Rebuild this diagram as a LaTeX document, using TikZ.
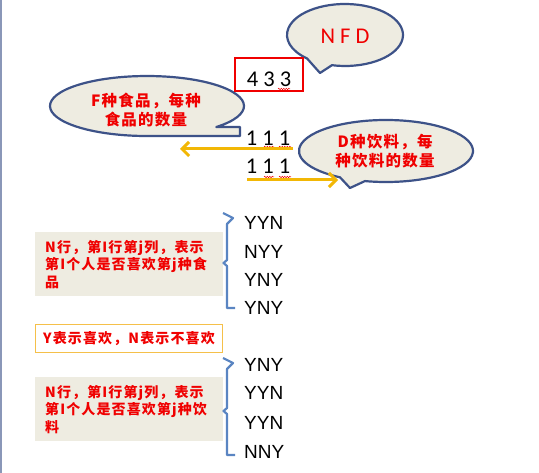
\documentclass[tikz,border=0pt]{standalone}
\usepackage{fontspec}
\setmainfont{Liberation Sans}
\newfontfamily\cjk{Noto Sans CJK SC}[LetterSpace=8]
\newfontfamily\calib{Carlito}
\usetikzlibrary{arrows.meta,decorations.pathmorphing}
\definecolor{bubble fill}{HTML}{EEECE1}
\definecolor{bubble edge}{HTML}{3D5288}
\definecolor{note red}{HTML}{F00000}
\definecolor{arrow gold}{HTML}{F2B705}
\definecolor{brace blue}{HTML}{5A85C2}
\definecolor{frame gold}{HTML}{F5C04A}
\definecolor{edge gray}{HTML}{8A97B8}
\def\nfdbubble{(320,73) -- (331.95,65.2) arc[start angle=103, end angle=-229.1, x radius=58, y radius=31] -- cycle}
\def\foodbubble{(240,127) -- (216.3,127) arc[start angle=44.4, end angle=-270, x radius=97, y radius=30] -- (240,136) -- cycle}
\def\drinkbubble{(350,188) -- (364.95,181.08) arc[start angle=104, end angle=-238.1, x radius=87, y radius=31] -- cycle}
\tikzset{bubble/.style={fill=bubble fill, draw=bubble edge, line width=2.2pt, line join=round},
    bubbletext/.style={text=note red, font=\cjk\bfseries\fontsize{15.5}{19.5}\selectfont, align=center},
    numbers/.style={font=\calib\fontsize{22.5}{22.5}\selectfont, inner sep=0pt},
    row/.style={font=\fontsize{19}{19}\selectfont, anchor=west, inner sep=0pt},
    notebox/.style={fill=bubble fill, minimum width=188pt, minimum height=64pt, anchor=north west,
        inner xsep=10pt, text width=168pt, align=left, text=note red,
        font=\cjk\bfseries\fontsize{14}{17.5}\selectfont},
    goldarrow/.style={draw=arrow gold, line width=3pt, -{Straight Barb[length=7pt,width=14pt]}},
    brace/.style={draw=brace blue, line width=2.2pt, line join=round},
    squiggle/.style={draw=note red, line width=0.5pt, decorate,
        decoration={snake, segment length=2.5pt, amplitude=0.7pt}}}

\begin{document}
\begin{tikzpicture}[x=1pt,y=-1pt]
    \useasboundingbox[fill=white] (0,0) rectangle (539,473);
    \draw[edge gray, line width=2pt] (1,0) -- (1,473);
    % callouts
    \draw[bubble] \foodbubble;
    \draw[bubble] \drinkbubble;
    \draw[bubble] \nfdbubble;
    \node[bubbletext] (foodnote) at (146,110) {F种食品，每种\\食品的数量};
    \node[bubbletext, font=\cjk\bfseries\fontsize{15.5}{18.5}\selectfont] (drinknote) at (385,151)
      {D种饮料，每\\种饮料的数量};
    \node[numbers, text=note red] (nfd) at (345,36) {N F D};
    % input lines
    \node[draw=note red, line width=2.5pt, minimum width=68pt, minimum height=33pt] (numbox) at (269,74.5) {};
    \node[numbers] (firstline) at (269,79.5) {4 3 3};
    \node[numbers] (foodcount) at (268,138) {1 1 1};
    \node[numbers] (drinkcount) at (268,166) {1 1 1};
    \draw[squiggle] (278,89) -- (290,89);
    \draw[squiggle] (264,147) -- (274,147);
    \draw[squiggle] (279,147) -- (291,147);
    \draw[squiggle] (264,177) -- (274,177);
    \draw[squiggle] (279,177) -- (291,177);
    \coordinate (foodfrom) at (293,149);
    \coordinate (foodto) at (180,149);
    \coordinate (drinkfrom) at (247,180);
    \coordinate (drinkto) at (338,180);
    \draw[goldarrow] (foodfrom) -- (foodto);
    \draw[goldarrow] (drinkfrom) -- (drinkto);
    % like matrices
    \node[notebox] (foodrule) at (35,232) {N行，第I行第j列，表示\\第I个人是否喜欢第j种食\\品};
    \node[draw=frame gold, line width=1pt, fill=white, minimum width=187pt, minimum height=28pt,
      anchor=north west, text=note red, font=\cjk\bfseries\fontsize{14}{17.5}\selectfont]
      (likerule) at (35,324) {Y表示喜欢，N表示不喜欢};
    \node[notebox] (drinkrule) at (35,377) {N行，第I行第j列，表示\\第I个人是否喜欢第j种饮\\料};
    \draw[brace] (223,213) -- (233,218) -- (227,224) -- (227,260) -- (223.5,263) -- (227,266)
      -- (227,308) -- (235,308);
    \draw[brace] (223,358) -- (233,363) -- (227,369) -- (227,408) -- (223.5,411) -- (227,414)
      -- (227,455) -- (235,455);
    \node[row] (foodA) at (244,223) {YYN};
    \node[row] (foodB) at (244,252) {NYY};
    \node[row] (foodC) at (244,280) {YNY};
    \node[row] (foodD) at (244,308) {YNY};
    \node[row] (drinkA) at (244,365) {YNY};
    \node[row] (drinkB) at (244,393) {YYN};
    \node[row] (drinkC) at (244,423) {YYN};
    \node[row] (drinkD) at (244,452) {NNY};
\end{tikzpicture}
\end{document}
